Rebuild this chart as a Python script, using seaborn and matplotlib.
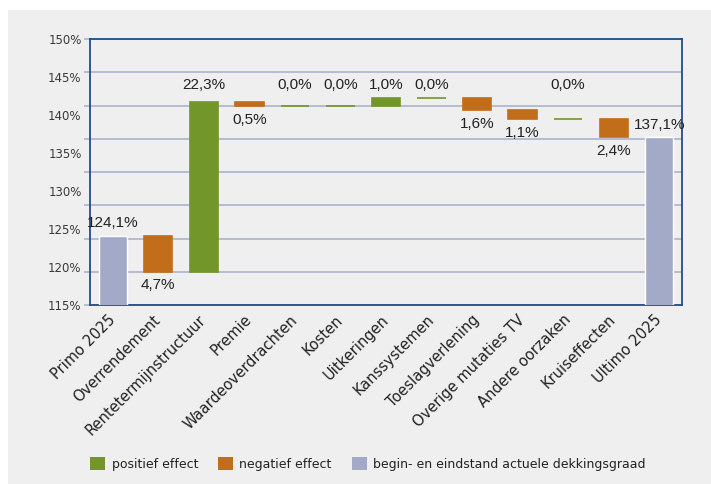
import numpy as np
import pandas as pd
import matplotlib.pyplot as plt
import seaborn as sns
from matplotlib.patches import Patch, Rectangle
from matplotlib.ticker import FixedLocator, FixedFormatter, NullFormatter

# data
categories = ['Primo 2025', 'Overrendement', 'Rentetermijnstructuur', 'Premie',
              'Waardeoverdrachten', 'Kosten', 'Uitkeringen', 'Kanssystemen',
              'Toeslagverlening', 'Overige mutaties TV', 'Andere oorzaken',
              'Kruiseffecten', 'Ultimo 2025']
start_value = 124.1
end_value = 137.1
effects = [-4.7, 22.3, -0.5, 0.0, 0.0, 1.0, 0.0, -1.6, -1.1, 0.0, -2.4]
y_labels = [115, 120, 125, 130, 135, 140, 145, 150]
legend_labels = ['positief effect', 'negatief effect',
                 'begin- en eindstand actuele dekkingsgraad']

GREEN = '#73962a'
ORANGE = '#c26d1a'
LAVENDER = '#a3aac7'
GRID = '#abb2cd'
SPINE = '#1f4f8a'
BG = '#efefef'
TEXT = '#222222'
BAR_W = 0.62
LABEL_ROW = 144.0


def fmt(v):
    return f"{abs(v):.1f}".replace('.', ',') + '%'


sns.set_style('white')
plt.rcParams['font.family'] = ['DejaVu Sans']

fig = plt.figure(figsize=(7.11, 4.84), dpi=100, facecolor='white')
fig.patches.append(Rectangle((8 / 711, 0), 1, 474 / 484, transform=fig.transFigure,
                             facecolor=BG, edgecolor='none', zorder=-10))
ax = fig.add_axes([90 / 711, 179 / 484, 592 / 711, 266 / 484])
ax.set_facecolor('none')

# start / end bars through seaborn
totals = [start_value] + [np.nan] * len(effects) + [end_value]
df = pd.DataFrame({'post': categories, 'waarde': totals})
sns.barplot(data=df, x='post', y='waarde', order=categories, color=LAVENDER,
            saturation=1, width=BAR_W, ax=ax, zorder=3)

# floating effect bars
level = start_value
for i, d in enumerate(effects, start=1):
    col = GREEN if d >= 0 else ORANGE
    ax.bar(i, d, bottom=level, width=BAR_W, color=col, edgecolor=col,
           linewidth=1.2, zorder=3)
    lo = min(level, level + d)
    if d >= 0:
        ax.text(i, LABEL_ROW, fmt(d), ha='center', va='center', fontsize=11,
                family='Liberation Sans', color=TEXT, zorder=4)
    else:
        ax.annotate(fmt(d), (i, lo), xytext=(0, -10), textcoords='offset points',
                    ha='center', va='center', fontsize=11,
                    family='Liberation Sans', color=TEXT, zorder=4)
    level += d

for i, v in [(0, start_value), (len(categories) - 1, end_value)]:
    ax.annotate(fmt(v), (i, v), xytext=(0, 9), textcoords='offset points',
                ha='center', va='center', fontsize=11,
                family='Liberation Sans', color=TEXT, zorder=4)

ax.set_ylim(y_labels[0], y_labels[-1])
ax.set_xlim(-0.5, len(categories) - 0.5)

# gridlines (9 evenly spaced) on major ticks, value labels on minor ticks
grid_pos = np.linspace(y_labels[0], y_labels[-1], 9)
ax.yaxis.set_major_locator(FixedLocator(grid_pos))
ax.yaxis.set_major_formatter(NullFormatter())
ax.yaxis.set_minor_locator(FixedLocator(y_labels))
ax.yaxis.set_minor_formatter(FixedFormatter([f"{v}%" for v in y_labels]))
ax.yaxis.remove_overlapping_locs = False
ax.tick_params(axis='y', which='major', length=4, width=1.2, color=GRID, left=True)
ax.tick_params(axis='y', which='minor', length=0, pad=6, labelsize=8.5,
               labelcolor='#3a3a3a', left=True)
ax.grid(axis='y', which='major', color=GRID, linewidth=1.2, zorder=0)
ax.set_axisbelow(True)

ax.set_xlabel('')
ax.set_ylabel('')
ax.tick_params(axis='x', length=0, pad=9, labelsize=10.5, labelcolor=TEXT)
plt.setp(ax.get_xticklabels(), rotation=45, ha='right', va='center',
         rotation_mode='anchor')

for s in ax.spines.values():
    s.set_visible(True)
    s.set_color(SPINE)
    s.set_linewidth(1.3)

handles = [Patch(facecolor=c, edgecolor='none') for c in (GREEN, ORANGE, LAVENDER)]
fig.legend(handles, legend_labels, loc='center', bbox_to_anchor=(368 / 711, 20 / 484),
           ncol=3, frameon=False, fontsize=9, handlelength=1.2, handleheight=1.2,
           handletextpad=0.5, columnspacing=1.6, labelcolor=TEXT)

fig.savefig('out.png', dpi=100, facecolor='white')
